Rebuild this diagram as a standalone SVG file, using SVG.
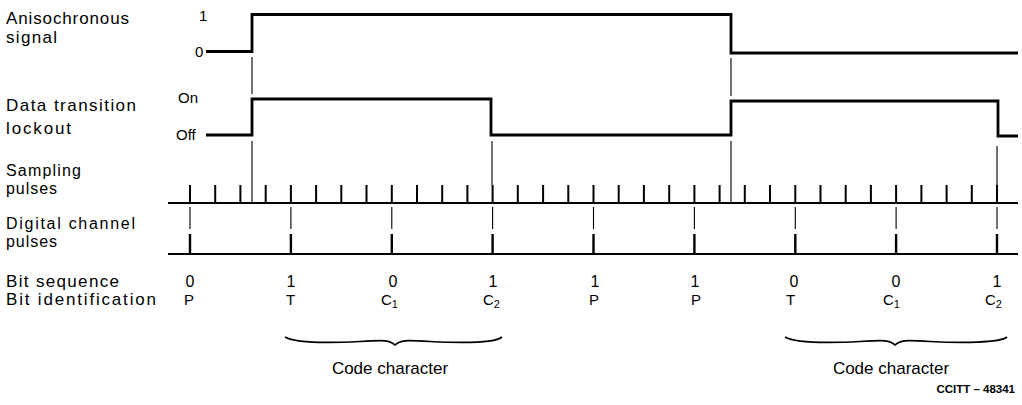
<svg xmlns="http://www.w3.org/2000/svg" width="1022" height="405" viewBox="0 0 1022 405">
<style>
text{font-family:"Liberation Sans",Arial,sans-serif;fill:#000}
.lbl{font-size:17px}
.lbl2{font-size:16px}
.lvl{font-size:15px}
.bit{font-size:16px;text-anchor:middle}
.id{font-size:15px}
.sub{font-size:11px}
.cap{font-size:17px;text-anchor:middle}
.ref{font-size:11.5px;font-weight:bold;text-anchor:end}
.wave{fill:none;stroke:#000;stroke-width:2.8;stroke-linejoin:miter}
.base{fill:none;stroke:#000;stroke-width:2}
.tick{fill:none;stroke:#000;stroke-width:2}
.thin{fill:none;stroke:#000;stroke-width:1.1}
.brace{fill:none;stroke:#000;stroke-width:1.7}
</style>
<rect width="1022" height="405" fill="#fff"/>

<g id="label-anisochronous">
<text class="lbl" x="6" y="24" textLength="123" lengthAdjust="spacing">Anisochronous</text>
<text class="lbl" x="6" y="43" textLength="51" lengthAdjust="spacing">signal</text>
<text class="lvl" x="199" y="21">1</text>
<text class="lvl" x="195" y="57">0</text>
</g>
<g id="label-lockout">
<text class="lbl" x="6" y="111" textLength="130" lengthAdjust="spacing">Data transition</text>
<text class="lbl" x="6" y="134" textLength="65" lengthAdjust="spacing">lockout</text>
<text class="lvl" x="178" y="103">On</text>
<text class="lvl" x="176" y="140">Off</text>
</g>
<g id="label-sampling">
<text class="lbl2" x="6" y="176" textLength="75" lengthAdjust="spacing">Sampling</text>
<text class="lbl2" x="6" y="194" textLength="51" lengthAdjust="spacing">pulses</text>
</g>
<g id="label-digital">
<text class="lbl2" x="6" y="229" textLength="129" lengthAdjust="spacing">Digital channel</text>
<text class="lbl2" x="6" y="247" textLength="51" lengthAdjust="spacing">pulses</text>
</g>
<g id="label-bitseq">
<text class="lbl" x="6" y="287" textLength="113" lengthAdjust="spacing">Bit sequence</text>
</g>
<g id="label-bitid">
<text class="lbl" x="6" y="305" textLength="150" lengthAdjust="spacing">Bit identification</text>
</g>

<g id="wave-anisochronous">
<path class="wave" d="M206,51.5H252V14.5H731V53H1018"/>
</g>
<g id="wave-lockout">
<path class="wave" d="M206,135H252V99H491V135H731V101H998V136H1018"/>
</g>
<g id="sampling-pulses">
<path class="base" d="M168,203H1018"/>
<path class="tick" d="M190,185V203M215.2,185V203M240.4,185V203M265.7,185V203M290.9,185V203M316.1,185V203M341.3,185V203M366.5,185V203M391.8,185V203M417,185V203M442.2,185V203M467.4,185V203M492.6,185V203M517.8,185V203M543.1,185V203M568.3,185V203M593.5,185V203M618.7,185V203M643.9,185V203M669.2,185V203M694.4,185V203M719.6,185V203M744.8,185V203M770,185V203M795.3,185V203M820.5,185V203M845.7,185V203M870.9,185V203M896.1,185V203M921.4,185V203M946.6,185V203M971.8,185V203M997,185V203"/>
</g>
<g id="digital-pulses">
<path class="base" d="M168,254H1018"/>
<path class="tick" d="M190,234V254M290.9,234V254M391.8,234V254M492.6,234V254M593.5,234V254M694.4,234V254M795.3,234V254M896.1,234V254M997,234V254" style="stroke-width:2.4"/>
</g>

<g id="connectors">
<path class="thin" d="M252,57V94M252,141V203M731,58V96M731,141V203M492,141V185M997,146V185"/>
<path class="thin" d="M190,207V229M290.9,207V229M391.8,207V229M492.6,207V229M593.5,207V229M694.4,207V229M795.3,207V229M896.1,207V229M997,207V229"/>
</g>

<g id="bit-sequence">
<text class="bit" x="190" y="287">0</text>
<text class="bit" x="291" y="287">1</text>
<text class="bit" x="393" y="287">0</text>
<text class="bit" x="493" y="287">1</text>
<text class="bit" x="595" y="287">1</text>
<text class="bit" x="695" y="287">1</text>
<text class="bit" x="794" y="287">0</text>
<text class="bit" x="896" y="287">0</text>
<text class="bit" x="997" y="287">1</text>
</g>
<g id="bit-identification">
<text class="id" x="184" y="305">P</text>
<text class="id" x="286" y="305">T</text>
<text class="id" x="381" y="305">C<tspan class="sub" dy="3">1</tspan></text>
<text class="id" x="483" y="305">C<tspan class="sub" dy="3">2</tspan></text>
<text class="id" x="589" y="305">P</text>
<text class="id" x="691" y="305">P</text>
<text class="id" x="786" y="305">T</text>
<text class="id" x="883" y="305">C<tspan class="sub" dy="3">1</tspan></text>
<text class="id" x="985" y="305">C<tspan class="sub" dy="3">2</tspan></text>
</g>

<g id="code-character-1">
<path class="brace" d="M285,337C295,343 330,343 360,341.5C385,340 390,340 395,345C400,340 405,340 430,341.5C460,343 495,343 502,337"/>
<text class="cap" x="390" y="374">Code character</text>
</g>
<g id="code-character-2">
<path class="brace" d="M785,337C795,343 830,343 860,341.5C885,340 890,340 895,345C900,340 905,340 930,341.5C960,343 1000,343 1007,337"/>
<text class="cap" x="891" y="374">Code character</text>
</g>
<g id="reference">
<text class="ref" x="1015" y="393">CCITT – 48341</text>
</g>
</svg>
